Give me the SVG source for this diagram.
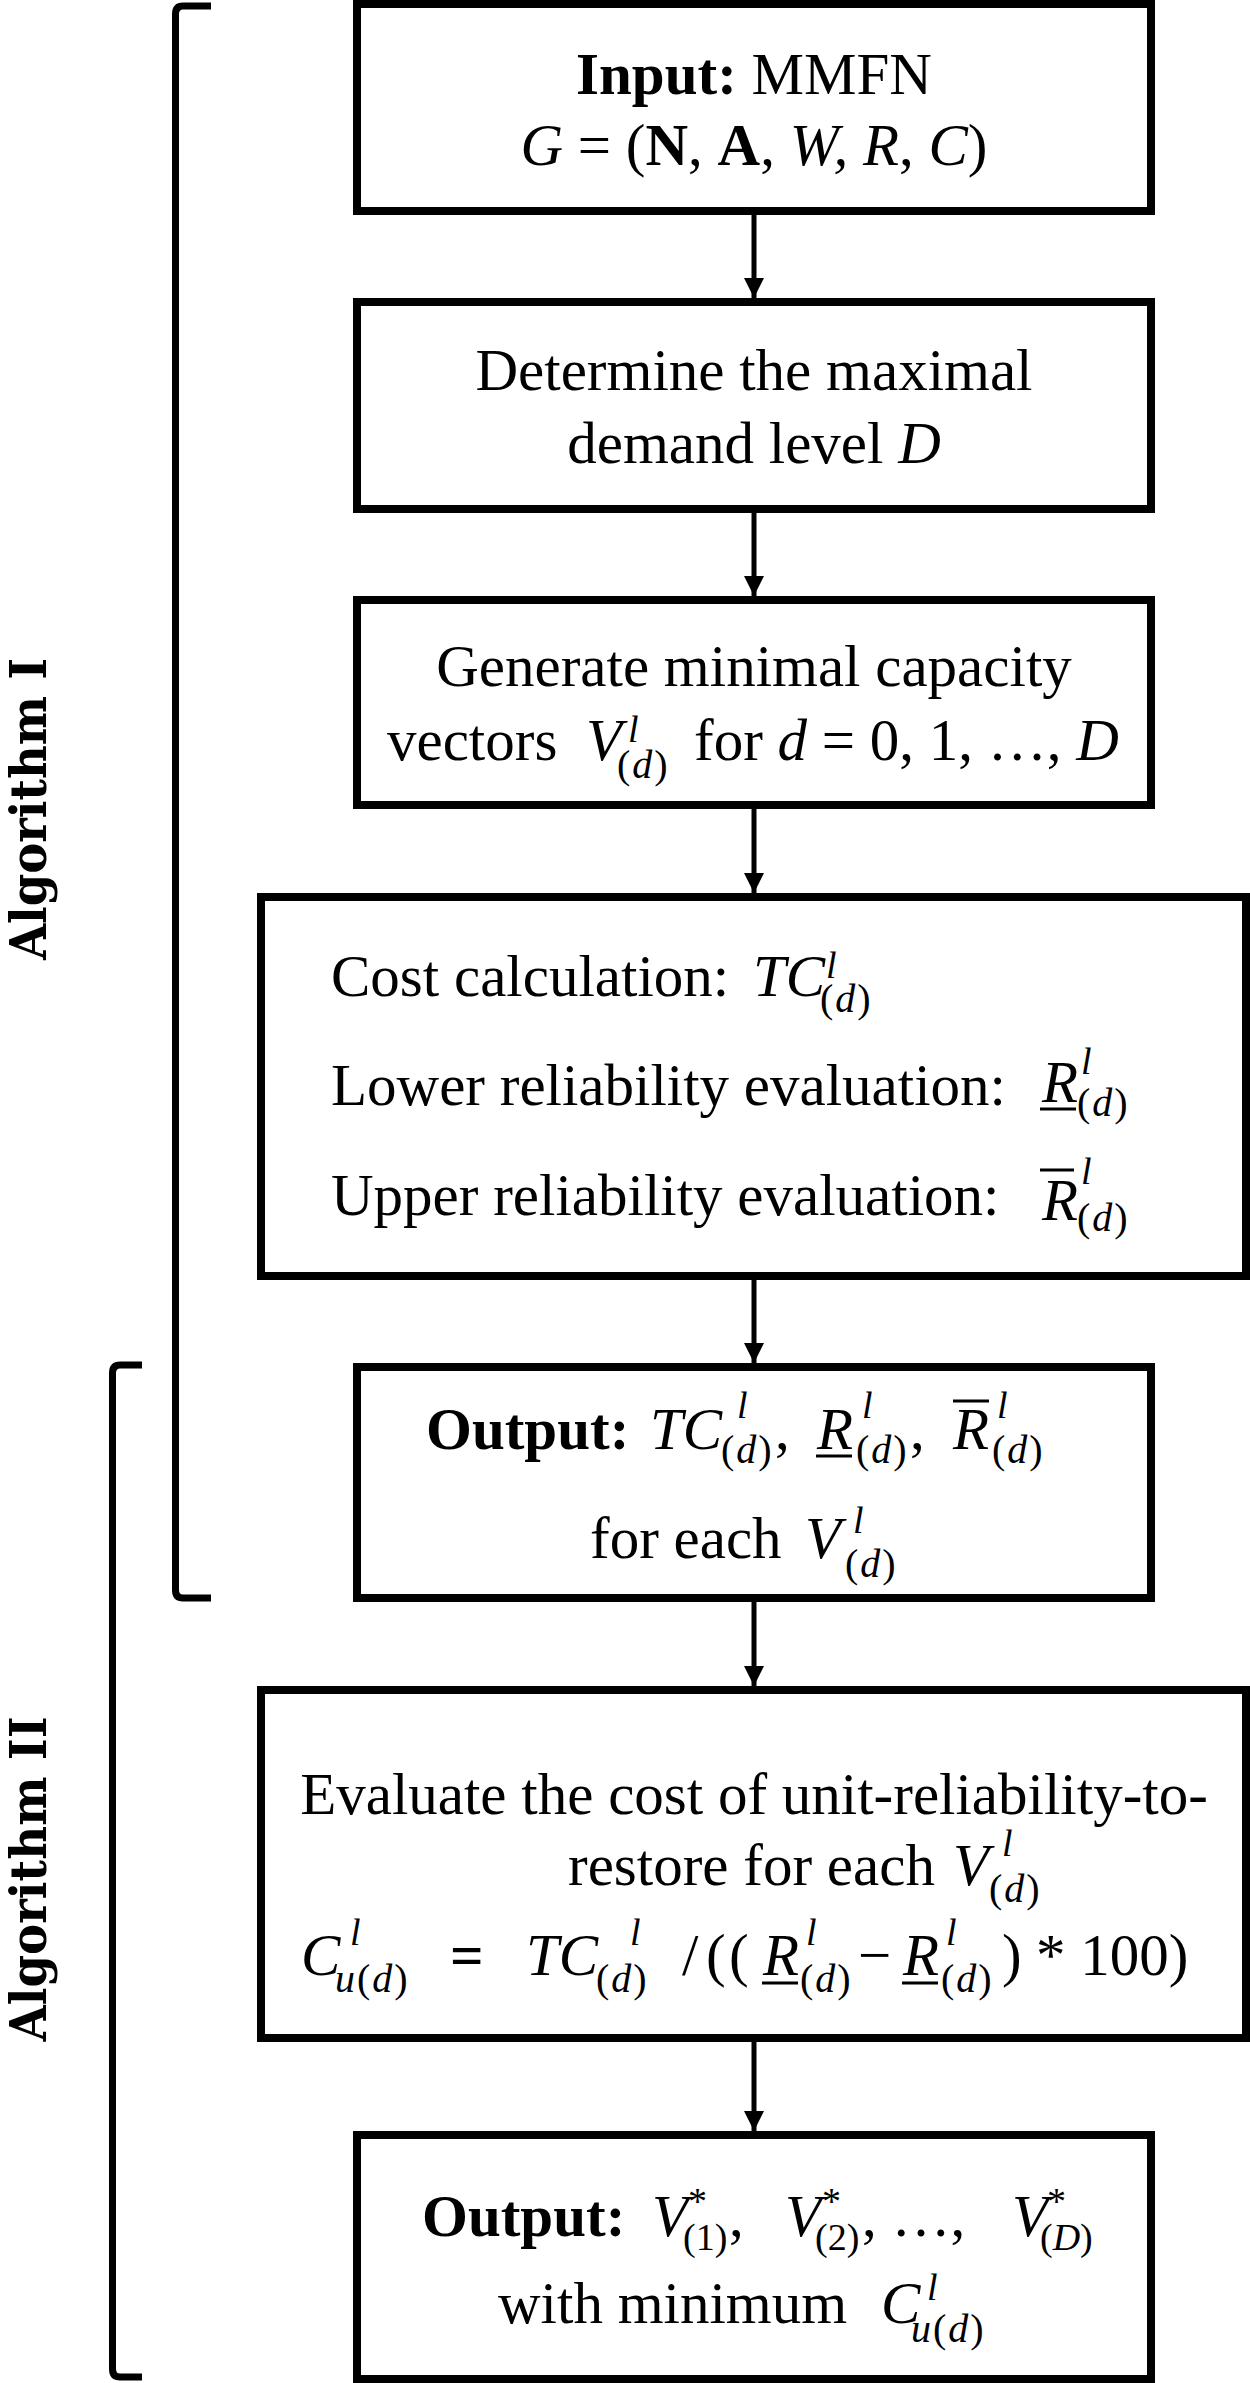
<svg xmlns="http://www.w3.org/2000/svg" width="1250" height="2383" viewBox="0 0 1250 2383">
<defs>
<style>
.box{fill:#fff;stroke:#000;stroke-width:8}
.br{fill:none;stroke:#000;stroke-width:7}
.ln{stroke:#000;stroke-width:5}
.bar{stroke:#000;stroke-width:3}
text{font-family:"Liberation Serif","Times New Roman",serif;font-size:59px;fill:#000}
.s{font-size:38px}
.sb{font-size:40px;letter-spacing:2px}
.i{font-style:italic}
.b{font-weight:bold}
.lab{font-family:"DejaVu Serif","Liberation Serif",serif;font-weight:bold;font-size:50px}
</style>
<marker id="ah" markerUnits="userSpaceOnUse" markerWidth="22" markerHeight="22" refX="20" refY="10" orient="auto">
<path d="M0,0 L20,10 L0,20 z" fill="#000"/>
</marker>
</defs>
<rect width="1250" height="2383" fill="#fff"/>

<g id="brackets">
<path class="br" d="M211 6 L183 6 Q175.5 6 175.5 14 L175.5 1590 Q175.5 1598 183 1598 L211 1598"/>
<path class="br" d="M142 1365 L120 1365 Q112.5 1365 112.5 1373 L112.5 2369 Q112.5 2377 120 2377 L142 2377"/>
<text class="lab" transform="translate(46,809) rotate(-90)" text-anchor="middle" textLength="302" lengthAdjust="spacingAndGlyphs">Algorithm I</text>
<text class="lab" transform="translate(46,1879) rotate(-90)" text-anchor="middle" textLength="325" lengthAdjust="spacingAndGlyphs">Algorithm II</text>
</g>

<g id="connectors">
<line class="ln" x1="754" y1="215" x2="754" y2="298" marker-end="url(#ah)"/>
<line class="ln" x1="754" y1="513" x2="754" y2="596" marker-end="url(#ah)"/>
<line class="ln" x1="754" y1="809" x2="754" y2="893" marker-end="url(#ah)"/>
<line class="ln" x1="754" y1="1280" x2="754" y2="1363" marker-end="url(#ah)"/>
<line class="ln" x1="754" y1="1602" x2="754" y2="1686" marker-end="url(#ah)"/>
<line class="ln" x1="754" y1="2042" x2="754" y2="2131" marker-end="url(#ah)"/>
</g>

<g id="input">
<rect class="box" x="357" y="4" width="794" height="207"/>
<text x="754" y="94" text-anchor="middle"><tspan class="b">Input:</tspan> MMFN</text>
<text x="754" y="165" text-anchor="middle"><tspan class="i">G</tspan> = (<tspan class="b">N</tspan>, <tspan class="b">A</tspan>, <tspan class="i">W,</tspan> <tspan class="i">R</tspan>, <tspan class="i">C</tspan>)</text>
</g>

<g id="demand">
<rect class="box" x="357" y="302" width="794" height="207"/>
<text x="754" y="390" text-anchor="middle">Determine the maximal</text>
<text x="754" y="463" text-anchor="middle">demand level <tspan class="i">D</tspan></text>
</g>

<g id="generate">
<rect class="box" x="357" y="600" width="794" height="205"/>
<text x="754" y="686" text-anchor="middle">Generate minimal capacity</text>
<text x="387" y="760">vectors</text>
<text class="i" x="586" y="760">V</text>
<text class="s i" x="628" y="742">l</text>
<text class="sb" x="617" y="778">(<tspan class="i">d</tspan>)</text>
<text x="694" y="760">for <tspan class="i">d</tspan> = 0, 1, …, <tspan class="i">D</tspan></text>
</g>

<g id="evaluation">
<rect class="box" x="261" y="897" width="985" height="379"/>
<text x="331" y="996">Cost calculation:</text>
<text class="i" x="753" y="996">TC</text>
<text class="s i" x="826" y="978">l</text>
<text class="sb" x="820" y="1012">(<tspan class="i">d</tspan>)</text>
<text x="331" y="1105">Lower reliability evaluation:</text>
<text class="i" x="1042" y="1102">R</text>
<line class="bar" x1="1040" y1="1109" x2="1076" y2="1109"/>
<text class="s i" x="1081" y="1074">l</text>
<text class="sb" x="1077" y="1116">(<tspan class="i">d</tspan>)</text>
<text x="331" y="1215">Upper reliability evaluation:</text>
<text class="i" x="1042" y="1220">R</text>
<line class="bar" x1="1040" y1="1170" x2="1074" y2="1170"/>
<text class="s i" x="1081" y="1184">l</text>
<text class="sb" x="1077" y="1231">(<tspan class="i">d</tspan>)</text>
</g>

<g id="output1">
<rect class="box" x="357" y="1367" width="794" height="231"/>
<text class="b" x="426" y="1449">Output:</text>
<text class="i" x="650" y="1449">TC</text>
<text class="s i" x="737" y="1418">l</text>
<text class="sb" x="721" y="1463">(<tspan class="i">d</tspan>)</text>
<text x="775" y="1449">,</text>
<text class="i" x="817" y="1449">R</text>
<line class="bar" x1="816" y1="1456" x2="852" y2="1456"/>
<text class="s i" x="862" y="1418">l</text>
<text class="sb" x="856" y="1463">(<tspan class="i">d</tspan>)</text>
<text x="910" y="1449">,</text>
<text class="i" x="953" y="1449">R</text>
<line class="bar" x1="953" y1="1401" x2="989" y2="1401"/>
<text class="s i" x="997" y="1418">l</text>
<text class="sb" x="992" y="1463">(<tspan class="i">d</tspan>)</text>
<text x="590" y="1558">for each</text>
<text class="i" x="805" y="1558">V</text>
<text class="s i" x="853" y="1533">l</text>
<text class="sb" x="845" y="1577">(<tspan class="i">d</tspan>)</text>
</g>

<g id="unit-cost">
<rect class="box" x="261" y="1690" width="985" height="348"/>
<text x="754" y="1814" text-anchor="middle">Evaluate the cost of unit-reliability-to-</text>
<text x="568" y="1885">restore for each</text>
<text class="i" x="953" y="1885">V</text>
<text class="s i" x="1002" y="1856">l</text>
<text class="sb" x="989" y="1902">(<tspan class="i">d</tspan>)</text>
<text class="i" x="301" y="1975">C</text>
<text class="s i" x="350" y="1945">l</text>
<text class="sb" x="335" y="1992"><tspan class="i">u</tspan>(<tspan class="i">d</tspan>)</text>
<text class="b" x="450" y="1975">=</text>
<text class="i" x="526" y="1975">TC</text>
<text class="s i" x="630" y="1945">l</text>
<text class="sb" x="596" y="1992">(<tspan class="i">d</tspan>)</text>
<text x="682" y="1975">/</text>
<text x="706" y="1975">(</text>
<text x="729" y="1975">(</text>
<text class="i" x="763" y="1975">R</text>
<line class="bar" x1="762" y1="1983" x2="798" y2="1983"/>
<text class="s i" x="806" y="1945">l</text>
<text class="sb" x="800" y="1992">(<tspan class="i">d</tspan>)</text>
<text x="858" y="1975">−</text>
<text class="i" x="903" y="1975">R</text>
<line class="bar" x1="902" y1="1983" x2="938" y2="1983"/>
<text class="s i" x="946" y="1945">l</text>
<text class="sb" x="941" y="1992">(<tspan class="i">d</tspan>)</text>
<text x="1002" y="1975">)</text>
<text x="1036" y="1975">* 100)</text>
</g>

<g id="output2">
<rect class="box" x="357" y="2135" width="794" height="244"/>
<text class="b" x="422" y="2236">Output:</text>
<text class="i" x="652" y="2236">V</text>
<text class="s" x="688" y="2214">*</text>
<text class="s" x="683" y="2250">(1)</text>
<text x="729" y="2236">,</text>
<text class="i" x="785" y="2236">V</text>
<text class="s" x="822" y="2214">*</text>
<text class="s" x="815" y="2250">(2)</text>
<text x="862" y="2236">, …,</text>
<text class="i" x="1012" y="2236">V</text>
<text class="s" x="1047" y="2214">*</text>
<text class="s" x="1040" y="2250">(<tspan class="i">D</tspan>)</text>
<text x="498" y="2323">with minimum</text>
<text class="i" x="881" y="2323">C</text>
<text class="s i" x="927" y="2300">l</text>
<text class="sb" x="911" y="2342"><tspan class="i">u</tspan>(<tspan class="i">d</tspan>)</text>
</g>
</svg>
